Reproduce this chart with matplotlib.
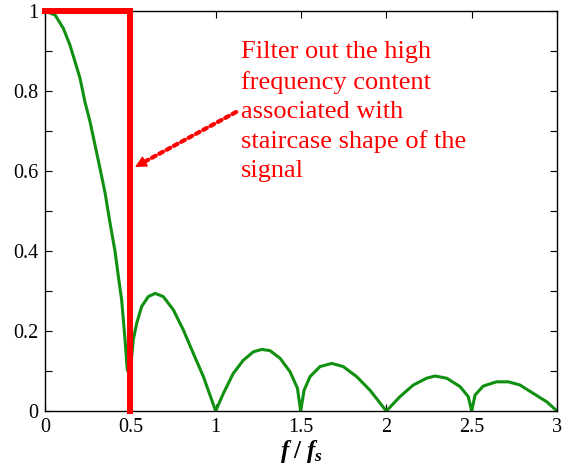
import matplotlib.pyplot as plt
from matplotlib.ticker import MultipleLocator

plt.rcParams['font.family'] = ['Liberation Serif', 'DejaVu Serif']
plt.rcParams['mathtext.fontset'] = 'custom'
plt.rcParams['mathtext.it'] = 'Liberation Serif:italic:bold'
plt.rcParams['mathtext.rm'] = 'Liberation Serif:bold'

# green spectrum
f_vals = [0.0, 0.01, 0.059, 0.107, 0.146, 0.176, 0.205, 0.234, 0.264, 0.293, 0.322,
          0.352, 0.381, 0.41, 0.43, 0.449, 0.469, 0.482, 0.498,
          0.517, 0.537, 0.566, 0.605, 0.645, 0.693, 0.752, 0.81, 0.869, 0.928, 1.0,
          1.045, 1.103, 1.162, 1.221, 1.27, 1.318, 1.377, 1.436, 1.479, 1.498,
          1.518, 1.553, 1.611, 1.68, 1.748, 1.826, 1.904, 2.0,
          2.08, 2.158, 2.236, 2.285, 2.354, 2.432, 2.48, 2.5,
          2.52, 2.568, 2.646, 2.715, 2.783, 2.861, 2.94, 3.0]
mag = [1.0, 0.998, 0.99, 0.957, 0.915, 0.873, 0.832, 0.773, 0.723, 0.665, 0.607,
       0.545, 0.47, 0.40, 0.336, 0.278, 0.178, 0.103, 0.09,
       0.178, 0.219, 0.261, 0.286, 0.294, 0.286, 0.253, 0.203, 0.144, 0.086, 0.0,
       0.044, 0.094, 0.127, 0.148, 0.154, 0.151, 0.132, 0.098, 0.057, 0.0,
       0.052, 0.086, 0.111, 0.119, 0.111, 0.086, 0.052, 0.0,
       0.036, 0.065, 0.082, 0.0875, 0.082, 0.061, 0.036, 0.0,
       0.04, 0.0625, 0.073, 0.073, 0.065, 0.044, 0.023, 0.0]

# ideal low-pass filter
filt_f = [0.0, 0.5, 0.5]
filt_v = [1.0, 1.0, 0.0]

note = "Filter out the high\nfrequency content\nassociated with\nstaircase shape of the\nsignal"

# arrow: tail near the text, tip at the filter edge
arrow_tail = (1.12, 0.7475)
arrow_tip = (0.527, 0.61)

fig = plt.figure(figsize=(5.64, 4.72), dpi=100)
ax = fig.add_axes([0.0798, 0.1292, 0.9078, 0.8475])

ax.plot(f_vals, mag, color='#109010', lw=2.2, zorder=2)
ax.plot(filt_f, filt_v, color='red', lw=4.3, solid_joinstyle='miter', zorder=3, clip_on=False)

# dotted shaft, then a solid head
ax.annotate('', xy=arrow_tip, xytext=arrow_tail,
            arrowprops=dict(arrowstyle='-', color='red', lw=3.0,
                            linestyle=(0, (1, 1)), shrinkA=0, shrinkB=8))
head_from = (arrow_tip[0] + 0.06 * (arrow_tail[0] - arrow_tip[0]),
             arrow_tip[1] + 0.06 * (arrow_tail[1] - arrow_tip[1]))
ax.annotate('', xy=arrow_tip, xytext=head_from,
            arrowprops=dict(arrowstyle='-|>,head_length=0.7,head_width=0.35', color='red',
                            lw=1.0, shrinkA=0, shrinkB=0))
ax.text(1.15, 0.925, note, color='red', fontsize=19, va='top', ha='left', linespacing=1.42)

ax.set_xlim(0, 3)
ax.set_ylim(0, 1)
ax.yaxis.set_minor_locator(MultipleLocator(0.1))
ax.set_xticks([0, 0.5, 1, 1.5, 2, 2.5, 3])
ax.set_xticklabels(['0', '0.5', '1', '1.5', '2', '2.5', '3'])
ax.set_yticks([0, 0.2, 0.4, 0.6, 0.8, 1])
ax.set_yticklabels(['0', '0.2', '0.4', '0.6', '0.8', '1'])
ax.tick_params(which='both', direction='in', top=True, right=True, length=5, width=0.8,
               labelsize=14.5, pad=5)
for s in ax.spines.values():
    s.set_linewidth(1.0)

ax.set_xlabel(r'$f\;/\;f_s$', fontsize=18, labelpad=1)

fig.savefig('out.png', dpi=100)
